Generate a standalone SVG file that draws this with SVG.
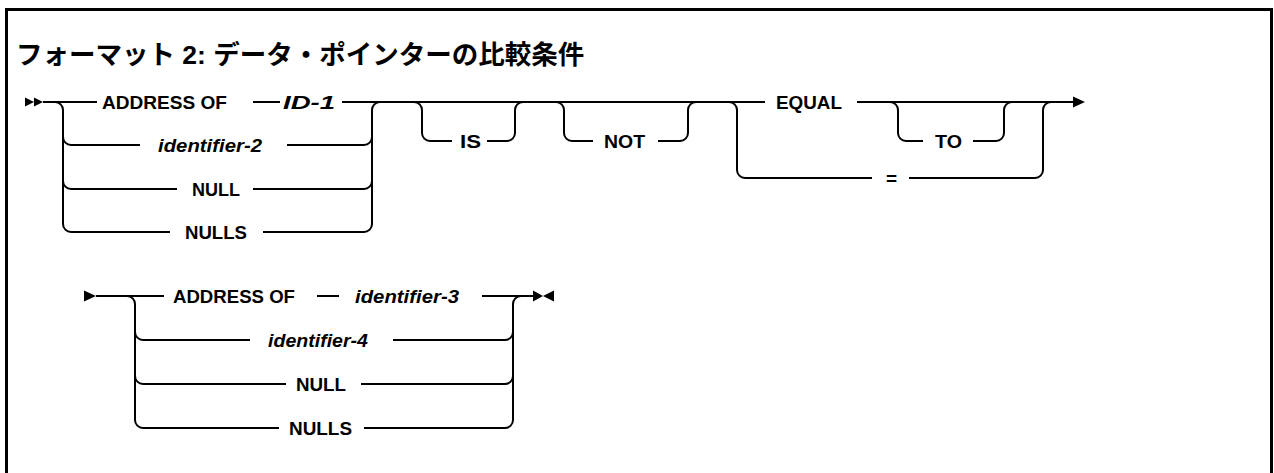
<svg xmlns="http://www.w3.org/2000/svg" width="1274" height="473" viewBox="0 0 1274 473">
<style>
.frame{fill:none;stroke:#000;stroke-width:3}
.ln{fill:none;stroke:#000;stroke-width:2}
.ah{fill:#000;stroke:none}
.t{font-family:"Liberation Sans",Arial,sans-serif;font-size:19px;font-weight:bold;fill:#000;text-anchor:middle}
.i{font-style:italic}
.title{font-family:"Liberation Sans","Noto Sans CJK JP",sans-serif;font-size:26.5px;font-weight:bold;fill:#000}
</style>
<rect width="1274" height="473" fill="#fff"/>
<path class="frame" d="M6.5,473 V9.5 H1271.5 V473"/>
<text id="title" class="title" x="16" y="64">フォーマット 2: データ・ポインターの比較条件</text>

<g id="connectors">
  <path class="ln" d="M43,102 H97 M253,102 H280 M342,102 H765 M857,102 H1073"/>
  <path class="ln" d="M55,102 A8,8 0 0 1 63,110 V224 A8,8 0 0 0 71,232 H170"/>
  <path class="ln" d="M63,137 A8,8 0 0 0 71,145 H140"/>
  <path class="ln" d="M63,181 A8,8 0 0 0 71,189 H177"/>
  <path class="ln" d="M287,145 H364 A8,8 0 0 0 372,137"/>
  <path class="ln" d="M253,189 H364 A8,8 0 0 0 372,181"/>
  <path class="ln" d="M263,232 H364 A8,8 0 0 0 372,224 V110 A8,8 0 0 1 380,102"/>
  <path class="ln" d="M414,102 A8,8 0 0 1 422,110 V133 A8,8 0 0 0 430,141 H452"/>
  <path class="ln" d="M487,141 H507 A8,8 0 0 0 515,133 V110 A8,8 0 0 1 523,102"/>
  <path class="ln" d="M556,102 A8,8 0 0 1 564,110 V133 A8,8 0 0 0 572,141 H593"/>
  <path class="ln" d="M658,141 H680 A8,8 0 0 0 688,133 V110 A8,8 0 0 1 696,102"/>
  <path class="ln" d="M729,102 A8,8 0 0 1 737,110 V170 A8,8 0 0 0 745,178 H872"/>
  <path class="ln" d="M909,178 H1035 A8,8 0 0 0 1043,170 V110 A8,8 0 0 1 1051,102"/>
  <path class="ln" d="M890,102 A8,8 0 0 1 898,110 V133 A8,8 0 0 0 906,141 H923"/>
  <path class="ln" d="M973,141 H996 A8,8 0 0 0 1004,133 V110 A8,8 0 0 1 1012,102"/>
  <polygon class="ah" points="25,97.5 34,102 25,106.5"/>
  <polygon class="ah" points="34,97.5 43,102 34,106.5"/>
  <polygon class="ah" points="1073,96.5 1085,102 1073,107.5"/>

  <polygon class="ah" points="84,290.5 96,296 84,301.5"/>
  <path class="ln" d="M96,296 H164 M317,296 H339 M482,296 H533"/>
  <path class="ln" d="M127,296 A8,8 0 0 1 135,304 V420 A8,8 0 0 0 143,428 H279"/>
  <path class="ln" d="M135,332 A8,8 0 0 0 143,340 H250"/>
  <path class="ln" d="M135,376 A8,8 0 0 0 143,384 H286"/>
  <path class="ln" d="M393,340 H505 A8,8 0 0 0 513,332"/>
  <path class="ln" d="M361,384 H505 A8,8 0 0 0 513,376"/>
  <path class="ln" d="M364,428 H505 A8,8 0 0 0 513,420 V304 A8,8 0 0 1 521,296"/>
  <polygon class="ah" points="533,290.5 543,296 533,301.5"/>
  <polygon class="ah" points="554,290.5 543,296 554,301.5"/>
</g>

<g id="n-address-of-1"><text class="t" x="164.5" y="109" textLength="125" lengthAdjust="spacingAndGlyphs">ADDRESS OF</text></g>
<g id="n-id-1"><text class="t i" x="309" y="109" textLength="52" lengthAdjust="spacingAndGlyphs">ID-1</text></g>
<g id="n-identifier-2"><text class="t i" x="210" y="152" textLength="104" lengthAdjust="spacingAndGlyphs">identifier-2</text></g>
<g id="n-null-1"><text class="t" x="216" y="196" textLength="48" lengthAdjust="spacingAndGlyphs">NULL</text></g>
<g id="n-nulls-1"><text class="t" x="216" y="239" textLength="62" lengthAdjust="spacingAndGlyphs">NULLS</text></g>
<g id="n-is"><text class="t" x="470.5" y="148" textLength="21" lengthAdjust="spacingAndGlyphs">IS</text></g>
<g id="n-not"><text class="t" x="624.5" y="148" textLength="41" lengthAdjust="spacingAndGlyphs">NOT</text></g>
<g id="n-equal"><text class="t" x="809" y="109" textLength="66" lengthAdjust="spacingAndGlyphs">EQUAL</text></g>
<g id="n-to"><text class="t" x="948.5" y="148" textLength="27" lengthAdjust="spacingAndGlyphs">TO</text></g>
<g id="n-eq-sign"><text class="t" x="891.5" y="185">=</text></g>

<g id="n-address-of-2"><text class="t" x="234" y="303" textLength="122" lengthAdjust="spacingAndGlyphs">ADDRESS OF</text></g>
<g id="n-identifier-3"><text class="t i" x="407" y="303" textLength="104" lengthAdjust="spacingAndGlyphs">identifier-3</text></g>
<g id="n-identifier-4"><text class="t i" x="318" y="347" textLength="100" lengthAdjust="spacingAndGlyphs">identifier-4</text></g>
<g id="n-null-2"><text class="t" x="321" y="391" textLength="50" lengthAdjust="spacingAndGlyphs">NULL</text></g>
<g id="n-nulls-2"><text class="t" x="320.5" y="435" textLength="63" lengthAdjust="spacingAndGlyphs">NULLS</text></g>
</svg>
